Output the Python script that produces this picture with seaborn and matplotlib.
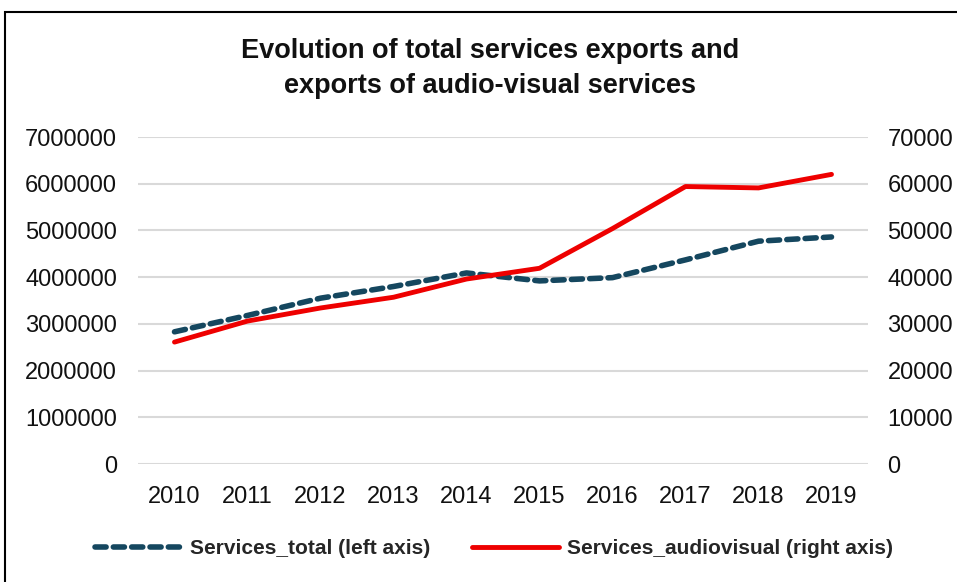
import matplotlib
matplotlib.use("Agg")
import matplotlib.pyplot as plt
import seaborn as sns
import pandas as pd
from matplotlib.patches import Rectangle
from matplotlib.lines import Line2D

years = ["2010", "2011", "2012", "2013", "2014", "2015", "2016", "2017", "2018", "2019"]
services_total = [2830000, 3180000, 3550000, 3800000, 4090000, 3920000, 3990000, 4370000, 4770000, 4860000]
services_audiovisual = [26100, 30600, 33400, 35700, 39600, 41900, 50400, 59400, 59100, 62000]
left_ticks = [0, 1000000, 2000000, 3000000, 4000000, 5000000, 6000000, 7000000]
right_ticks = [0, 10000, 20000, 30000, 40000, 50000, 60000, 70000]

title = "Evolution of total services exports and\nexports of audio-visual services"
label_total = "Services_total (left axis)"
label_av = "Services_audiovisual (right axis)"

sns.set_theme(style="white")
plt.rcParams["font.family"] = ["Liberation Sans", "DejaVu Sans"]

df = pd.DataFrame({"year": years, "total": services_total, "av": services_audiovisual})
df["pos"] = range(len(years))

fig = plt.figure(figsize=(9.57, 5.82), dpi=100)
ax = fig.add_axes([0.1442, 0.2027, 0.7628, 0.5619])
ax2 = ax.twinx()

navy = "#15475f"
red = "#ee0000"

sns.lineplot(data=df, x="pos", y="total", ax=ax, color=navy, linewidth=4,
             linestyle=(0, (2.0, 1.3)), dash_capstyle="round", legend=False, zorder=3)
sns.lineplot(data=df, x="pos", y="av", ax=ax2, color=red, linewidth=3.5,
             solid_capstyle="round", legend=False, zorder=3)

for a, ticks in ((ax, left_ticks), (ax2, right_ticks)):
    a.set_ylim(ticks[0], ticks[-1])
    a.set_yticks(ticks)
    a.set_yticklabels([str(t) for t in ticks], fontsize=17, color="#111111")
    a.set_xlim(-0.5, len(years) - 0.5)
    a.set_xlabel("")
    a.set_ylabel("")
    for s in a.spines.values():
        s.set_visible(False)
    a.tick_params(axis="both", length=0)

ax.tick_params(axis="y", pad=15)
ax2.tick_params(axis="y", pad=14)
ax.set_xticks(range(len(years)))
ax.set_xticklabels(years, fontsize=17, color="#111111")
ax.tick_params(axis="x", pad=16)
ax.yaxis.grid(True, color="#d9d9d9", linewidth=1.5)
ax.set_axisbelow(True)
ax2.grid(False)

fig.text(0.512, 0.883, title, ha="center", va="center", fontsize=19.5,
         fontweight="bold", linespacing=1.45, color="#111111")

handles = [
    Line2D([0], [0], color=navy, linewidth=4, linestyle=(0, (2.0, 1.3)), dash_capstyle="round"),
    Line2D([0], [0], color=red, linewidth=3.5),
]
fig.legend(handles, [label_total, label_av], loc="center", bbox_to_anchor=(0.516, 0.057),
           ncol=2, frameon=False, prop={"weight": "bold", "size": 15},
           handlelength=4.2, handletextpad=0.35, columnspacing=2.0)

fig.patches.append(Rectangle((5 / 957, -0.2), 2.0, 1.2 - 12 / 582, transform=fig.transFigure,
                             fill=False, edgecolor="black", linewidth=1.5))

fig.savefig("out.png", dpi=100)
